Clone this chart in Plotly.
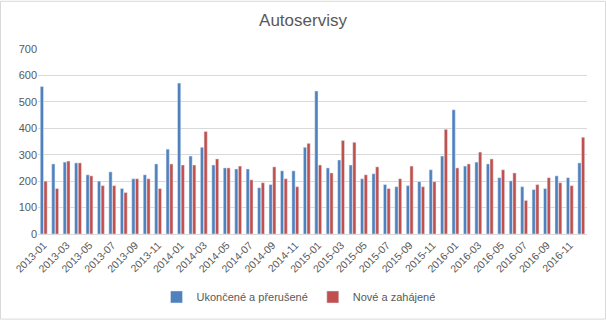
import plotly.graph_objects as go

months = [f"{y}-{m:02d}" for y in range(2013, 2017) for m in range(1, 13)]

ukoncene = [558, 265, 272, 269, 224, 200, 235, 172, 209, 224, 265, 321,
            571, 295, 328, 261, 250, 246, 246, 175, 187, 239, 239, 328,
            541, 250, 280, 261, 209, 228, 187, 179, 183, 198, 243, 295,
            470, 257, 272, 265, 213, 201, 179, 168, 172, 220, 213, 269]
nove = [200, 172, 276, 269, 220, 183, 183, 157, 209, 209, 172, 265,
        261, 261, 388, 284, 250, 257, 205, 194, 254, 209, 179, 343,
        261, 231, 354, 347, 224, 254, 172, 209, 257, 179, 198, 396,
        250, 265, 310, 284, 243, 231, 127, 187, 213, 194, 183, 366]
tick_labels = months[::2]

W, H = 606, 324
L, R, T, B = 38, 19, 49, 87
pw, ph = W - L - R, H - T - B

fig = go.Figure()
fig.add_trace(go.Bar(x=months, y=ukoncene, name="Ukončené a přerušené", marker_color="#4F81BD"))
fig.add_trace(go.Bar(x=months, y=nove, name="Nové a zahájené", marker_color="#C0504D"))

fig.update_layout(
    width=W, height=H,
    margin=dict(l=L, r=R, t=T, b=B),
    paper_bgcolor="white", plot_bgcolor="white",
    font=dict(family="Liberation Sans, Arial, sans-serif", size=11, color="#595959"),
    title=dict(text="Autoservisy", x=0.5, xanchor="center", y=1 - 20 / H, yanchor="middle",
               font=dict(size=17, color="#595959")),
    barmode="group", bargap=0.36, bargroupgap=0.12,
    showlegend=True,
    legend=dict(orientation="h", x=0.5 - 14 / pw, xanchor="center", y=(237 - 301) / ph, yanchor="middle",
                font=dict(size=11, color="#595959"),
                itemwidth=30, traceorder="normal"),
    xaxis=dict(type="category", tickmode="array", tickvals=tick_labels, ticktext=tick_labels,
               tickangle=-45, showgrid=False, showline=True, linecolor="#D9D9D9", linewidth=1,
               ticks="", tickfont=dict(size=10.5, color="#595959")),
    yaxis=dict(range=[0, 700], dtick=100, showgrid=True, gridcolor="#D9D9D9", gridwidth=1,
               zeroline=False, showline=False, ticks="", tickfont=dict(size=11, color="#595959")),
    shapes=[dict(type="rect", xref="paper", yref="paper",
                 x0=(0.5 - L) / pw, x1=(W - 0.5 - L) / pw,
                 y0=(H - B - (H - 0.5)) / ph, y1=(H - B - 0.5) / ph,
                 line=dict(color="#D9D9D9", width=1), fillcolor="rgba(0,0,0,0)", layer="below")],
)

fig.write_html("out.html")
